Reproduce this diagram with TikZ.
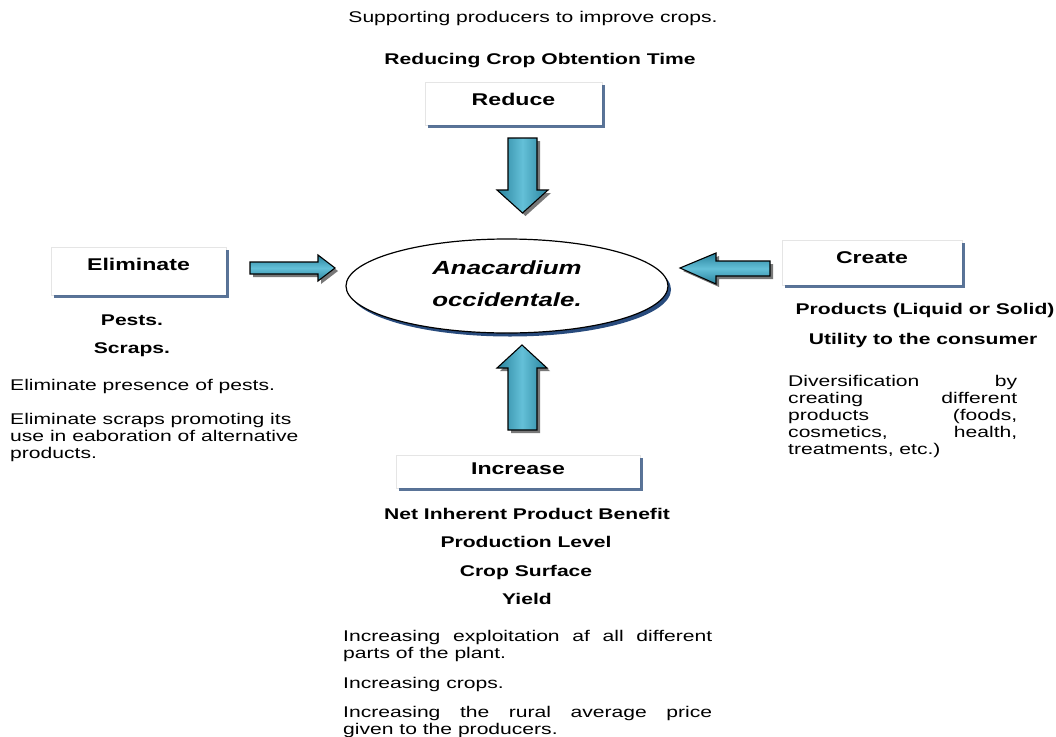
\documentclass[tikz,border=0pt]{standalone}
\usepackage{fontspec}
\setmainfont{Liberation Sans}[FakeStretch=1.36]
\usetikzlibrary{shapes.geometric}
\definecolor{tealdark}{RGB}{40,130,156}
\definecolor{teallight}{RGB}{100,192,216}
\definecolor{boxshadow}{RGB}{62,92,134}
\definecolor{ellshadow}{RGB}{40,75,125}
\begin{document}
\begin{tikzpicture}[x=1pt,y=-1pt,
  every node/.style={inner sep=0pt},
  txt/.style={font=\fontsize{15.5}{17}\selectfont, text height=11pt, text depth=3pt},
  btxt/.style={font=\fontsize{15.5}{17}\selectfont\bfseries, text height=11pt, text depth=3pt},
  para/.style={font=\fontsize{15.5}{17}\selectfont, align=left, anchor=north west},
  lbox/.style={fill=white, draw=black!10, line width=0.4pt, font=\fontsize{17}{20}\selectfont\bfseries, text height=12pt},
  boxsh/.style={draw=boxshadow, line width=3pt, opacity=0.85},
  arrsh/.style={fill=black!70, opacity=0.75},
  varr/.style={draw=black, line width=1.1pt, line join=miter, left color=tealdark, right color=tealdark, middle color=teallight},
  harr/.style={draw=black, line width=1.1pt, line join=miter, top color=tealdark, bottom color=tealdark, middle color=teallight},
]
\useasboundingbox[fill=white] (0,0) rectangle (1056,736);

% top texts
\node[txt] (sup) at (533,18) {Supporting producers to improve crops.};
\node[btxt] (rct) at (540,60) {Reducing Crop Obtention Time};

% boxes
\node[lbox, text depth=9pt, minimum width=177pt, minimum height=43pt] (reduce) at (513.5,103.5) {Reduce};
\draw[boxsh] ([shift={(3,1.5)}]reduce.south west) -- ([shift={(1.5,1.5)}]reduce.south east) -- ([shift={(1.5,3)}]reduce.north east);

\node[lbox, text depth=14pt, minimum width=175pt, minimum height=48pt] (elim) at (138.5,271) {Eliminate};
\draw[boxsh] ([shift={(3,1.5)}]elim.south west) -- ([shift={(1.5,1.5)}]elim.south east) -- ([shift={(1.5,3)}]elim.north east);

\node[lbox, text depth=10pt, minimum width=180pt, minimum height=45pt] (create) at (872,262.5) {Create};
\draw[boxsh] ([shift={(3,1.5)}]create.south west) -- ([shift={(1.5,1.5)}]create.south east) -- ([shift={(1.5,3)}]create.north east);

\node[lbox, text depth=6pt, minimum width=244pt, minimum height=33pt] (incr) at (518,471.5) {Increase};
\draw[boxsh] ([shift={(3,1.5)}]incr.south west) -- ([shift={(1.5,1.5)}]incr.south east) -- ([shift={(1.5,3)}]incr.north east);

% central ellipse
\fill[ellshadow] (510,289.5) ellipse [x radius=161, y radius=47];
\node[ellipse, draw=black, line width=1.2pt, fill=white, minimum width=322pt, minimum height=94pt,
      align=center, font=\fontsize{19}{32}\selectfont\bfseries\itshape] (ell) at (507,286)
      {Anacardium\\occidentale.\rule[-5pt]{0pt}{0pt}};

% block arrows: shadows
\fill[arrsh] (511,141) -- (540,141) -- (540,193) -- (551,193) -- (525.5,216) -- (500,193) -- (511,193) -- cycle;
\fill[arrsh] (525,348) -- (550,371) -- (540,371) -- (540,433) -- (511,433) -- (511,371) -- (500,371) -- cycle;
\fill[arrsh] (253,265) -- (321,265) -- (321,258) -- (338,271) -- (321,284) -- (321,277) -- (253,277) -- cycle;
\fill[arrsh] (683,271) -- (719,256) -- (719,264) -- (773,264) -- (773,279) -- (719,279) -- (719,287) -- cycle;

% block arrows
\path[varr] (508,138) -- (537,138) -- (537,190) -- (548,190) -- (522.5,213) -- (497,190) -- (508,190) -- cycle;
\path[varr] (522,345) -- (547,368) -- (537,368) -- (537,430) -- (508,430) -- (508,368) -- (497,368) -- cycle;
\path[harr] (250,262) -- (318,262) -- (318,255) -- (335,268) -- (318,281) -- (318,274) -- (250,274) -- cycle;
\path[harr] (680,268) -- (716,253) -- (716,261) -- (770,261) -- (770,276) -- (716,276) -- (716,284) -- cycle;

% left texts
\node[btxt] (pests) at (132,321) {Pests.};
\node[btxt] (scraps) at (132,349) {Scraps.};
\node[txt, anchor=west] (lp1) at (10,386) {Eliminate presence of pests.};
\node[para] (lp2) at (10,413) {Eliminate scraps promoting its\\use in eaboration of alternative\\products.};

% right texts
\node[btxt] (prod) at (925,310) {Products (Liquid or Solid)};
\node[btxt] (util) at (923,340) {Utility to the consumer};
\node[para] (rp) at (788,375) {\makebox[229pt][s]{Diversification by}\\
  \makebox[229pt][s]{creating different}\\
  \makebox[229pt][s]{products (foods,}\\
  \makebox[229pt][s]{cosmetics, health,}\\
  treatments, etc.)};

% bottom texts
\node[btxt] (nipb) at (527,515) {Net Inherent Product Benefit};
\node[btxt] (pl) at (526,543) {Production Level};
\node[btxt] (cs) at (526,572) {Crop Surface};
\node[btxt] (yl) at (527,600) {Yield};
\node[para] (bp1) at (343,630) {\makebox[369pt][s]{Increasing exploitation af all different}\\parts of the plant.};
\node[txt, anchor=west] (bp2) at (343,684) {Increasing crops.};
\node[para] (bp3) at (343,706) {\makebox[369pt][s]{Increasing the rural average price}\\given to the producers.};
\end{tikzpicture}
\end{document}
